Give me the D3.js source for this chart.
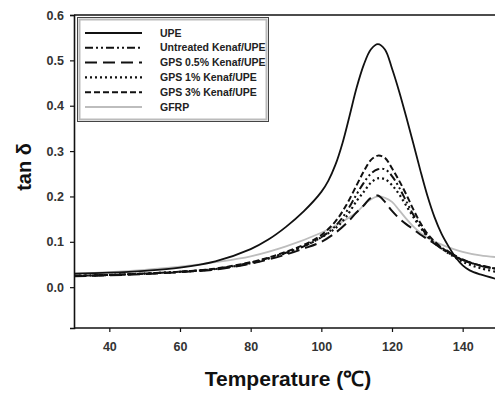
<!DOCTYPE html>
<html>
<head>
<meta charset="utf-8">
<script src="https://cdn.jsdelivr.net/npm/d3@7"></script>
<style>
  body { margin: 0; background: #fff; }
  svg { display: block; font-family: "Liberation Sans", Arial, sans-serif; }
</style>
</head>
<body>
<div id="chart"></div>
<script>
// tan delta vs temperature
const temps_upe = [30, 40, 50, 60, 70, 80, 85, 90, 95, 100, 102, 104, 106, 108, 110, 112, 114, 116, 118, 120, 122, 124, 126, 128, 130, 132, 134, 136, 138, 140, 142, 145, 150];
const upe = [0.030, 0.032, 0.036, 0.043, 0.057, 0.084, 0.105, 0.133, 0.167, 0.21, 0.235, 0.27, 0.318, 0.378, 0.44, 0.49, 0.524, 0.536, 0.524, 0.482, 0.432, 0.376, 0.318, 0.258, 0.202, 0.155, 0.118, 0.09, 0.066, 0.048, 0.037, 0.028, 0.017];

const temps_k = [30, 40, 50, 60, 70, 80, 85, 90, 95, 100, 104, 107, 110, 112, 114, 116, 118, 120, 122, 124, 126, 128, 130, 132, 135, 140, 145, 150];
const untreated = [0.025, 0.027, 0.030, 0.034, 0.040, 0.054, 0.064, 0.076, 0.09, 0.11, 0.135, 0.165, 0.205, 0.23, 0.25, 0.26, 0.26, 0.245, 0.22, 0.19, 0.16, 0.135, 0.113, 0.097, 0.08, 0.06, 0.048, 0.04];
const gps05 = [0.024, 0.026, 0.029, 0.033, 0.039, 0.052, 0.061, 0.072, 0.085, 0.1, 0.12, 0.14, 0.165, 0.18, 0.197, 0.202, 0.188, 0.168, 0.152, 0.139, 0.128, 0.116, 0.106, 0.096, 0.083, 0.061, 0.047, 0.04];
const gps1 = [0.025, 0.027, 0.030, 0.034, 0.040, 0.053, 0.063, 0.075, 0.09, 0.11, 0.13, 0.155, 0.19, 0.21, 0.23, 0.24, 0.238, 0.225, 0.205, 0.18, 0.155, 0.132, 0.112, 0.098, 0.08, 0.056, 0.042, 0.033];
const gps3 = [0.025, 0.027, 0.030, 0.034, 0.041, 0.055, 0.065, 0.078, 0.093, 0.115, 0.145, 0.18, 0.225, 0.255, 0.28, 0.29, 0.285, 0.262, 0.235, 0.205, 0.172, 0.142, 0.118, 0.101, 0.082, 0.06, 0.048, 0.04];

const temps_g = [30, 40, 50, 60, 70, 80, 90, 100, 105, 110, 113, 116, 118, 120, 122, 124, 126, 128, 130, 133, 136, 140, 145, 150];
const gfrp = [0.030, 0.033, 0.038, 0.045, 0.055, 0.068, 0.09, 0.12, 0.14, 0.165, 0.188, 0.2, 0.197, 0.188, 0.17, 0.151, 0.134, 0.12, 0.109, 0.097, 0.088, 0.078, 0.07, 0.066];

const legendNames = ["UPE", "Untreated Kenaf/UPE", "GPS 0.5% Kenaf/UPE", "GPS 1% Kenaf/UPE", "GPS 3% Kenaf/UPE", "GFRP"];
const xTicks = [40, 60, 80, 100, 120, 140];
const yTicks = [0.0, 0.1, 0.2, 0.3, 0.4, 0.5, 0.6];

const series = [
  { name: legendNames[0], t: temps_upe, v: upe, color: "#111", width: 1.8, dash: null },
  { name: legendNames[1], t: temps_k, v: untreated, color: "#111", width: 2, dash: "8,3,2,3,2,3" },
  { name: legendNames[2], t: temps_k, v: gps05, color: "#111", width: 2, dash: "12,6" },
  { name: legendNames[3], t: temps_k, v: gps1, color: "#111", width: 2.2, dash: "2,3" },
  { name: legendNames[4], t: temps_k, v: gps3, color: "#111", width: 2, dash: "6,3" },
  { name: legendNames[5], t: temps_g, v: gfrp, color: "#bdbdbd", width: 1.8, dash: null }
];

const width = 495, height = 394;
const margin = { top: 15, right: -3, bottom: 66, left: 74 };

const svg = d3.select("#chart").append("svg")
  .attr("width", width)
  .attr("height", height);

const x = d3.scaleLinear().domain([30, 150]).range([margin.left, width - margin.right]);
const y = d3.scaleLinear().domain([-0.09, 0.6]).range([height - margin.bottom, margin.top]);

// clip to plot area
svg.append("clipPath").attr("id", "clip")
  .append("rect")
  .attr("x", margin.left).attr("y", margin.top)
  .attr("width", x(150) - margin.left).attr("height", y(-0.09) - margin.top);

// lines (gray one first so dark ones sit on top)
const line = d3.line().x(d => x(d[0])).y(d => y(d[1])).curve(d3.curveCatmullRom.alpha(0.5));
const order = [5, 0, 1, 2, 3, 4];
svg.append("g").attr("clip-path", "url(#clip)")
  .selectAll("path")
  .data(order.map(i => series[i]))
  .join("path")
  .attr("d", s => line(s.t.map((t, i) => [t, s.v[i]])))
  .attr("fill", "none")
  .attr("stroke", s => s.color)
  .attr("stroke-width", s => s.width)
  .attr("stroke-dasharray", s => s.dash)
  .attr("stroke-linejoin", "round");

// axes
const xAxis = svg.append("g")
  .attr("transform", `translate(0,${y(-0.09)})`)
  .call(d3.axisBottom(x).tickValues(xTicks).tickSize(4).tickPadding(10).tickFormat(d3.format("d")));
const yAxis = svg.append("g")
  .attr("transform", `translate(${margin.left},0)`)
  .call(d3.axisLeft(y).tickValues(yTicks).tickSize(4).tickPadding(6).tickFormat(d3.format(".1f")));

[xAxis, yAxis].forEach(a => {
  a.select(".domain").attr("stroke", "#111").attr("stroke-width", 1.6);
  a.selectAll(".tick line").attr("stroke", "#111").attr("stroke-width", 1.2);
  a.selectAll(".tick text")
    .attr("fill", "#333")
    .style("font-size", "12.5px")
    .style("font-weight", "bold");
});
xAxis.select(".domain").attr("d", `M${margin.left},0H${width}`);

// top frame line
svg.append("line")
  .attr("x1", margin.left).attr("x2", width)
  .attr("y1", y(0.6)).attr("y2", y(0.6))
  .attr("stroke", "#111").attr("stroke-width", 1.6);

// axis titles
svg.append("text")
  .attr("x", 288).attr("y", 386)
  .attr("text-anchor", "middle")
  .style("font-size", "21px").style("font-weight", "bold")
  .attr("fill", "#111")
  .text("Temperature (℃)");

svg.append("text")
  .attr("transform", "translate(31,167) rotate(-90)")
  .attr("text-anchor", "middle")
  .style("font-size", "20px").style("font-weight", "bold")
  .attr("fill", "#111")
  .text("tan δ");

// legend
const lg = svg.append("g");
lg.append("rect")
  .attr("x", 77.5).attr("y", 17.5).attr("width", 191).attr("height", 104)
  .attr("fill", "#fff").attr("stroke", "#444").attr("stroke-width", 1);
lg.append("rect")
  .attr("x", 79.5).attr("y", 19.5).attr("width", 187).attr("height", 100)
  .attr("fill", "none").attr("stroke", "#bbb").attr("stroke-width", 2);

const rowY = i => 33 + i * 14.8;
const items = lg.selectAll(".item").data(series).join("g")
  .attr("transform", (d, i) => `translate(0,${rowY(i)})`);
items.append("line")
  .attr("x1", 85).attr("x2", 142)
  .attr("stroke", d => d.color)
  .attr("stroke-width", d => d.width)
  .attr("stroke-dasharray", d => d.dash);
items.append("text")
  .attr("x", 160).attr("dy", "0.35em")
  .style("font-size", "10.5px").style("font-weight", "bold")
  .attr("fill", "#222")
  .text(d => d.name);
</script>
</body>
</html>
